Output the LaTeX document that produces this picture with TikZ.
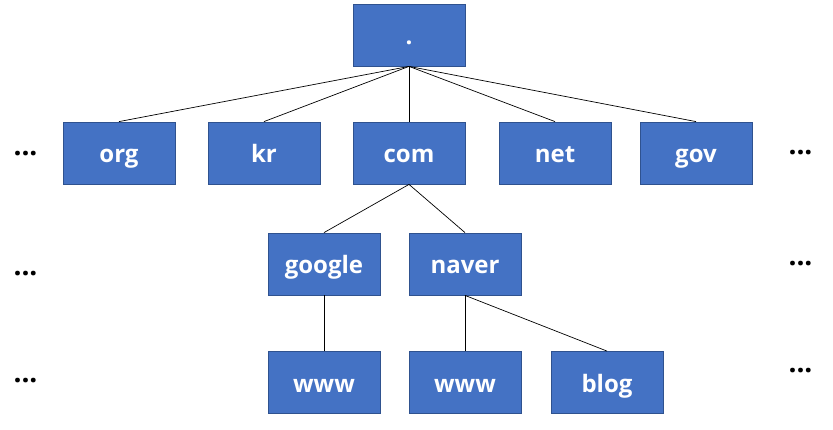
\documentclass[tikz,border=0pt]{standalone}
\usepackage{fontspec}
\setmainfont{Open Sans}
\definecolor{boxfill}{HTML}{4472C4}
\definecolor{boxline}{HTML}{2F528F}
\tikzset{
  dnsbox/.style={draw=boxline, fill=boxfill, line width=0.8pt, minimum width=112pt, minimum height=62pt, inner sep=0pt, text height=24pt, text depth=4pt, text=white, font=\bfseries\fontsize{24}{24}\selectfont},
  edge/.style={draw=black, line width=0.7pt},
  more/.style={inner sep=0pt, anchor=base, font=\bfseries\fontsize{28}{28}\selectfont}
}
\begin{document}
\begin{tikzpicture}[x=1pt,y=-1pt]
\useasboundingbox (0,0) rectangle (833,430);
\node[dnsbox] (root) at (409,35) {.};
\node[dnsbox] (org) at (119,153) {org};
\node[dnsbox] (kr) at (264,153) {kr};
\node[dnsbox] (com) at (409,153) {com};
\node[dnsbox] (net) at (555,153) {net};
\node[dnsbox] (gov) at (696,153) {gov};
\node[dnsbox] (google) at (324,264) {google};
\node[dnsbox] (naver) at (465,264) {naver};
\node[dnsbox] (www1) at (324,382.5) {www};
\node[dnsbox] (www2) at (465,382.5) {www};
\node[dnsbox] (blog) at (607,382.5) {blog};
\foreach \c in {org,kr,com,net,gov} \draw[edge] (root.south) -- (\c.north);
\draw[edge] (com.south) -- (google.north);
\draw[edge] (com.south) -- (naver.north);
\draw[edge] (google.south) -- (www1.north);
\draw[edge] (naver.south) -- (www2.north);
\draw[edge] (naver.south) -- (blog.north);
\node[more] (l1) at (25.5,155.5) {...};
\node[more] (l2) at (25.5,275.5) {...};
\node[more] (l3) at (25.5,382.5) {...};
\node[more] (r1) at (800.5,154.5) {...};
\node[more] (r2) at (800.5,265.5) {...};
\node[more] (r3) at (800.5,372.5) {...};
\end{tikzpicture}
\end{document}
